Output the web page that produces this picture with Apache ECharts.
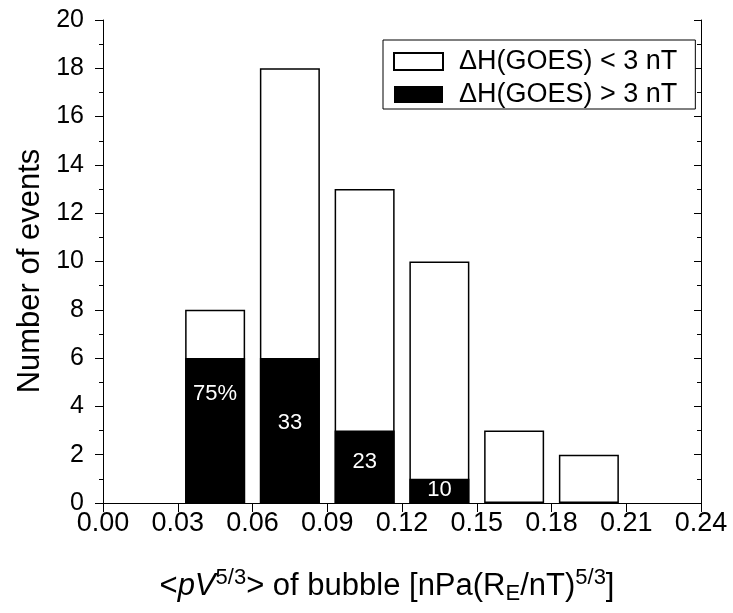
<!DOCTYPE html>
<html><head><meta charset="utf-8">
<script src="https://cdn.jsdelivr.net/npm/echarts@6/dist/echarts.min.js"></script>
<style>html,body{margin:0;padding:0;background:#fff}#c{width:733px;height:613px}</style>
</head><body><div id="c"></div>
<script>
// ---- data ----
const binCenters   = [0.045, 0.075, 0.105, 0.135, 0.165, 0.195];
const totalEvents  = [8, 18, 13, 10, 3, 2];
const strongEvents = [6, 6, 3, 1, 0, 0];
const strongLabels = ['75%', '33', '23', '10', '', ''];
const seriesNames  = ['\u0394H(GOES) < 3 nT', '\u0394H(GOES) > 3 nT'];
const yTitle = 'Number of events';

// ---- chart ----
const FONT = 'Liberation Sans, Arial, sans-serif';
const chart = echarts.init(document.getElementById('c'), null, {renderer: 'canvas'});
const labelNudge = [-37, -8, -5, -1, 0, 0];

const option = {
  animation: false,
  backgroundColor: '#fff',
  textStyle: {fontFamily: FONT, color: '#000'},
  grid: {left: 103, right: 32, top: 20, bottom: 110},
  legend: {
    orient: 'vertical', left: 383, top: 40,
    padding: [8, 18, 1, 10],
    itemWidth: 49, itemHeight: 17, itemGap: 6,
    borderColor: '#000', borderWidth: 1,
    backgroundColor: '#fff',
    icon: 'rect',
    textStyle: {fontFamily: FONT, fontSize: 27, color: '#000', padding: [0, 0, 0, 11]},
    data: seriesNames
  },
  xAxis: {
    type: 'value', min: 0, max: 0.24, interval: 0.03,
    axisLine: {show: true, lineStyle: {color: '#000', width: 1}},
    axisTick: {show: true, inside: false, length: 9, lineStyle: {color: '#000'}},
    axisLabel: {fontFamily: FONT, fontSize: 27, color: '#000', margin: 7,
      formatter: v => v.toFixed(2)},
    splitLine: {show: false}
  },
  yAxis: [{
    type: 'value', min: 0, max: 20, interval: 2, position: 'left',
    axisLine: {show: true, lineStyle: {color: '#000', width: 1}},
    axisTick: {show: true, inside: false, length: 8, lineStyle: {color: '#000'}},
    minorTick: {show: true, splitNumber: 2, length: 4, lineStyle: {color: '#000'}},
    axisLabel: {fontFamily: FONT, fontSize: 25, color: '#000', margin: 19},
    splitLine: {show: false}
  }, {
    type: 'value', min: 0, max: 20, interval: 2, position: 'right',
    axisLine: {show: true, onZero: false, lineStyle: {color: '#000', width: 1}},
    axisTick: {show: true, inside: true, length: 7, lineStyle: {color: '#000'}},
    minorTick: {show: true, splitNumber: 2, length: 4, lineStyle: {color: '#000'}},
    axisLabel: {show: false},
    splitLine: {show: false}
  }],
  graphic: [{
    type: 'text', id: 'ytitle', rotation: Math.PI / 2, x: 15, y: 271,
    style: {text: yTitle, font: '31px ' + FONT, fill: '#000', align: 'center', verticalAlign: 'top'}
  }, {
    type: 'text', id: 'xtitle', x: 387, y: 586,
    style: {
      text: '{n|<}{i|pV}{s|5/3}{n|> of bubble [nPa(R}{b|E}{n|/nT)}{s|5/3}{n|]}',
      align: 'center', verticalAlign: 'middle',
      rich: {
        n: {font: '31px ' + FONT, fill: '#000'},
        i: {font: 'italic 31px ' + FONT, fill: '#000'},
        s: {font: '22px ' + FONT, fill: '#000', verticalAlign: 'bottom', padding: [0, 0, 16, 0]},
        b: {font: '22px ' + FONT, fill: '#000', verticalAlign: 'top', padding: [16, 0, 0, 0]}
      }
    }
  }],
  series: [{
    name: seriesNames[0], type: 'bar', barWidth: 60, barGap: '-100%',
    itemStyle: {color: '#fff', borderColor: '#000', borderWidth: 1.5},
    data: binCenters.map((x, i) => [x, totalEvents[i]])
  }, {
    name: seriesNames[1], type: 'bar', barWidth: 60, barGap: '-100%',
    itemStyle: {color: '#000', borderColor: '#000', borderWidth: 0},
    label: {show: true, position: 'inside', color: '#fff', fontFamily: FONT, fontSize: 22,
      formatter: p => strongLabels[p.dataIndex]},
    data: binCenters.map((x, i) => ({value: [x, strongEvents[i]], label: {offset: [0, labelNudge[i]]}}))
  }]
};
chart.setOption(option);
</script>
</body></html>
